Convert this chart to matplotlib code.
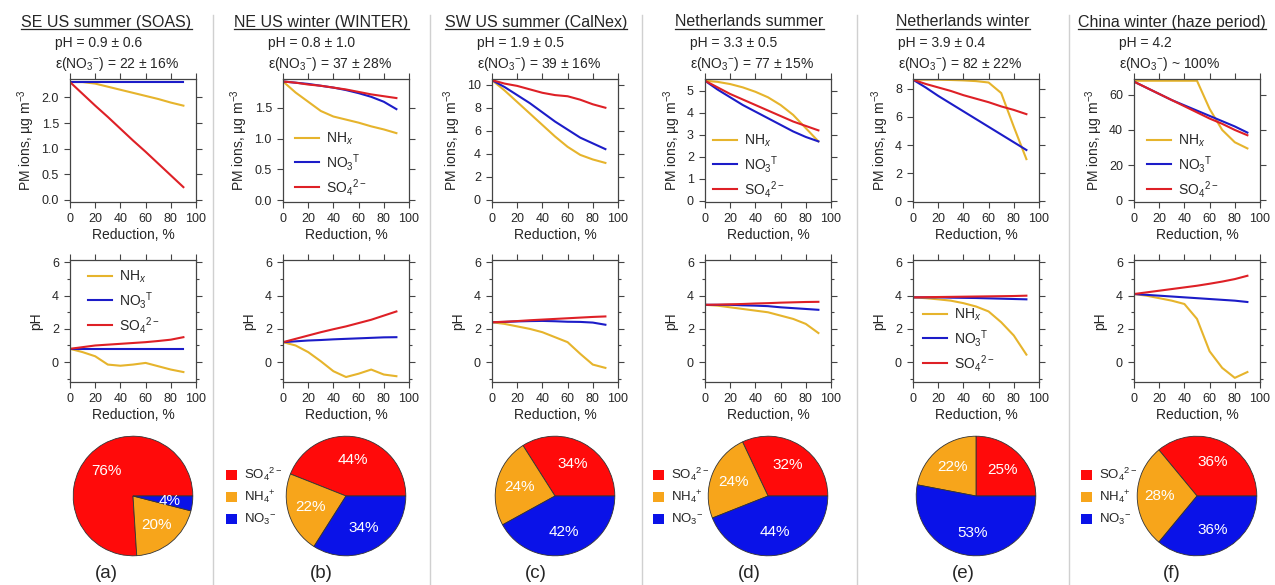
import matplotlib
matplotlib.use("Agg")
import matplotlib.pyplot as plt
from matplotlib.lines import Line2D
from matplotlib.patches import Patch
from matplotlib.ticker import MultipleLocator

plt.rcParams["font.family"] = ["Liberation Sans", "DejaVu Sans"]
plt.rcParams["mathtext.fontset"] = "custom"
plt.rcParams["mathtext.rm"] = "Liberation Sans"
plt.rcParams["mathtext.it"] = "Liberation Sans:italic"
plt.rcParams["mathtext.bf"] = "Liberation Sans:bold"
plt.rcParams["axes.unicode_minus"] = False

W, H = 1275, 585

# ---- data ----
reduction = [0, 10, 20, 30, 40, 50, 60, 70, 80, 90]

titles = ["SE US summer (SOAS)", "NE US winter (WINTER)", "SW US summer (CalNex)",
          "Netherlands summer", "Netherlands winter", "China winter (haze period)"]
ph_text = ["pH = 0.9 ± 0.6", "pH = 0.8 ± 1.0", "pH = 1.9 ± 0.5",
           "pH = 3.3 ± 0.5", "pH = 3.9 ± 0.4", "pH = 4.2"]
eps_text = ["= 22 ± 16%", "= 37 ± 28%", "= 39 ± 16%",
            "= 77 ± 15%", "= 82 ± 22%", "~ 100%"]
panel_tags = ["(a)", "(b)", "(c)", "(d)", "(e)", "(f)"]

# PM ions (ug m-3) vs reduction, one row per site
pm_nhx = [
    [2.30, 2.30, 2.27, 2.21, 2.15, 2.09, 2.03, 1.97, 1.90, 1.84],
    [1.93, 1.75, 1.60, 1.45, 1.36, 1.31, 1.26, 1.20, 1.15, 1.09],
    [10.4, 9.5, 8.5, 7.5, 6.5, 5.5, 4.6, 3.9, 3.5, 3.2],
    [5.45, 5.40, 5.30, 5.15, 4.95, 4.70, 4.35, 3.90, 3.30, 2.70],
    [8.65, 8.65, 8.65, 8.63, 8.60, 8.55, 8.45, 7.70, 5.30, 3.00],
    [68, 68, 68, 68, 68, 68, 52, 40, 33, 29.5],
]
pm_no3 = [
    [2.30, 2.30, 2.30, 2.30, 2.30, 2.30, 2.30, 2.30, 2.30, 2.30],
    [1.93, 1.91, 1.89, 1.86, 1.83, 1.79, 1.74, 1.68, 1.60, 1.48],
    [10.4, 9.8, 9.1, 8.4, 7.6, 6.8, 6.1, 5.4, 4.9, 4.4],
    [5.45, 5.05, 4.70, 4.35, 4.05, 3.75, 3.45, 3.15, 2.90, 2.70],
    [8.65, 8.10, 7.50, 6.95, 6.40, 5.85, 5.30, 4.75, 4.20, 3.65],
    [67.5, 64, 60.5, 57, 54, 51, 48, 45, 42, 38.5],
]
pm_so4 = [
    [2.30, 2.07, 1.84, 1.62, 1.39, 1.16, 0.94, 0.71, 0.48, 0.25],
    [1.93, 1.91, 1.88, 1.86, 1.83, 1.80, 1.76, 1.72, 1.69, 1.66],
    [10.4, 10.1, 9.9, 9.6, 9.3, 9.1, 9.0, 8.7, 8.3, 8.0],
    [5.45, 5.15, 4.85, 4.60, 4.35, 4.10, 3.85, 3.60, 3.40, 3.20],
    [8.65, 8.35, 8.10, 7.85, 7.55, 7.30, 7.05, 6.75, 6.50, 6.20],
    [67.5, 64, 60.5, 57, 53.5, 50, 46.5, 43.5, 40, 37],
]

# pH vs reduction
ph_nhx = [
    [0.80, 0.60, 0.35, -0.15, -0.22, -0.15, -0.05, -0.25, -0.45, -0.60],
    [1.20, 1.00, 0.60, 0.05, -0.55, -0.90, -0.70, -0.45, -0.75, -0.85],
    [2.40, 2.30, 2.15, 2.00, 1.80, 1.50, 1.20, 0.50, -0.15, -0.35],
    [3.45, 3.40, 3.30, 3.20, 3.10, 3.00, 2.80, 2.60, 2.30, 1.75],
    [3.90, 3.85, 3.78, 3.70, 3.55, 3.35, 3.05, 2.40, 1.60, 0.45],
    [4.10, 4.00, 3.85, 3.70, 3.50, 2.60, 0.65, -0.35, -0.95, -0.60],
]
ph_no3 = [
    [0.78, 0.78, 0.78, 0.78, 0.78, 0.78, 0.78, 0.78, 0.78, 0.78],
    [1.20, 1.25, 1.30, 1.33, 1.37, 1.40, 1.43, 1.46, 1.49, 1.50],
    [2.40, 2.42, 2.45, 2.47, 2.48, 2.46, 2.43, 2.42, 2.38, 2.25],
    [3.45, 3.45, 3.45, 3.42, 3.40, 3.37, 3.30, 3.25, 3.20, 3.15],
    [3.90, 3.90, 3.90, 3.88, 3.87, 3.86, 3.84, 3.82, 3.80, 3.78],
    [4.10, 4.05, 4.00, 3.95, 3.90, 3.85, 3.80, 3.75, 3.70, 3.62],
]
ph_so4 = [
    [0.80, 0.90, 1.00, 1.05, 1.10, 1.15, 1.20, 1.27, 1.35, 1.50],
    [1.20, 1.40, 1.60, 1.80, 1.98, 2.15, 2.35, 2.55, 2.80, 3.05],
    [2.40, 2.43, 2.47, 2.52, 2.56, 2.60, 2.64, 2.68, 2.72, 2.75],
    [3.45, 3.46, 3.48, 3.50, 3.53, 3.55, 3.58, 3.60, 3.62, 3.63],
    [3.90, 3.91, 3.92, 3.93, 3.94, 3.95, 3.96, 3.97, 3.98, 4.00],
    [4.10, 4.20, 4.30, 4.40, 4.50, 4.60, 4.72, 4.85, 5.00, 5.20],
]

# mass fractions for the pies (%)
pie_so4 = [76, 44, 34, 32, 25, 36]
pie_nh4 = [20, 22, 24, 24, 22, 28]
pie_no3 = [4, 34, 42, 44, 53, 36]

# ---- layout / style ----
C_NHX, C_NO3, C_SO4 = "#E6B42C", "#1C1CC8", "#DE2026"
P_SO4, P_NH4, P_NO3 = "#FF0A0A", "#F7A51B", "#0A12E8"
TXT = "#262626"
AX_LEFT = [70, 283, 492, 705, 913, 1134]
AX_W = 126
COL_EDGES = [0, 213, 430, 642, 857, 1069, 1275]
PM_YLIM = [(-0.04, 2.36), (-0.03, 1.97), (-0.2, 10.5), (-0.05, 5.53), (-0.05, 8.7), (-1, 69)]
PM_STEP = [0.5, 0.5, 2, 1, 2, 20]
LINE_LEG = {0: ("ph", 88, 269), 1: ("pm", 295, 131), 3: ("pm", 713, 133),
            4: ("ph", 923, 307), 5: ("pm", 1147, 133)}
PIE_LEG = {1: 226, 3: 653, 5: 1081}

LAB_NHX = "NH$_x$"
LAB_NO3 = "NO$_3$$^{\\mathrm{T}}$"
LAB_SO4 = "SO$_4$$^{2-}$"


def rect(x, y, w, h):
    return [x / W, 1 - (y + h) / H, w / W, h / H]


def style_axes(ax):
    for s in ax.spines.values():
        s.set_color("#444444")
        s.set_linewidth(0.9)
    ax.tick_params(which="both", direction="out", top=True, right=True,
                   labelsize=9, colors="#444444", labelcolor=TXT, width=0.8)
    ax.tick_params(which="major", length=4.5)
    ax.tick_params(which="minor", length=2.5)
    ax.set_xlim(0, 100)
    ax.xaxis.set_major_locator(MultipleLocator(20))
    ax.set_xlabel("Reduction, %", fontsize=10, color=TXT, labelpad=2)


fig = plt.figure(figsize=(W / 100, H / 100), dpi=100)

title_texts = []
for i in range(6):
    x0 = AX_LEFT[i]
    cx = (COL_EDGES[i] + COL_EDGES[i + 1]) / 2

    # PM ions panel
    ax = fig.add_axes(rect(x0, 79, AX_W, 123))
    ax.plot(reduction, pm_nhx[i], color=C_NHX, lw=1.5, label=LAB_NHX)
    ax.plot(reduction, pm_no3[i], color=C_NO3, lw=1.5, label=LAB_NO3)
    ax.plot(reduction, pm_so4[i], color=C_SO4, lw=1.5, label=LAB_SO4)
    style_axes(ax)
    ax.set_ylim(*PM_YLIM[i])
    ax.yaxis.set_major_locator(MultipleLocator(PM_STEP[i]))
    ax.set_ylabel("PM ions, µg m$^{-3}$", fontsize=10, color=TXT, labelpad=3)
    ax_pm = ax

    # pH panel
    ax = fig.add_axes(rect(x0, 260, AX_W, 122))
    ax.plot(reduction, ph_nhx[i], color=C_NHX, lw=1.5, label=LAB_NHX)
    ax.plot(reduction, ph_no3[i], color=C_NO3, lw=1.5, label=LAB_NO3)
    ax.plot(reduction, ph_so4[i], color=C_SO4, lw=1.5, label=LAB_SO4)
    style_axes(ax)
    ax.set_ylim(-1.2, 6.15)
    ax.yaxis.set_major_locator(MultipleLocator(2))
    ax.yaxis.set_minor_locator(MultipleLocator(1))
    ax.set_ylabel("pH", fontsize=10, color=TXT, labelpad=6)
    ax_ph = ax

    if i in LINE_LEG:
        which, lx, ly = LINE_LEG[i]
        src = ax_pm if which == "pm" else ax_ph
        src.legend(loc="upper left", bbox_to_anchor=(lx / W, 1 - ly / H),
                   bbox_transform=fig.transFigure, frameon=False, fontsize=10,
                   borderpad=0, borderaxespad=0, handlelength=1.7,
                   handletextpad=0.5, labelspacing=0.3, labelcolor=TXT)

    # pie of composition
    pcx = x0 + AX_W / 2
    pax = fig.add_axes(rect(pcx - 61, 435, 122, 122))
    pax.pie([pie_so4[i], pie_nh4[i], pie_no3[i]], colors=[P_SO4, P_NH4, P_NO3],
            startangle=0, counterclock=True, radius=1.0,
            autopct=lambda p: f"{p:.0f}%", pctdistance=0.62,
            wedgeprops=dict(edgecolor="#333333", linewidth=0.6),
            textprops=dict(color="white", fontsize=11))
    pax.set_xlim(-1.02, 1.02)
    pax.set_ylim(-1.02, 1.02)

    if i in PIE_LEG:
        handles = [Patch(facecolor=P_SO4, label="SO$_4$$^{2-}$"),
                   Patch(facecolor=P_NH4, label="NH$_4$$^{+}$"),
                   Patch(facecolor=P_NO3, label="NO$_3$$^{-}$")]
        fig.legend(handles=handles, loc="upper left",
                   bbox_to_anchor=(PIE_LEG[i] / W, 1 - 466 / H),
                   frameon=False, fontsize=9.5, borderpad=0, borderaxespad=0,
                   handlelength=0.8, handleheight=0.8, handletextpad=0.6,
                   labelspacing=0.45, labelcolor=TXT)

    # header text
    t = fig.text(cx / W, 1 - 22 / H, titles[i], ha="center", va="center",
                 fontsize=11.5, color=TXT)
    title_texts.append(t)
    fig.text((x0 - 15) / W, 1 - 43 / H, ph_text[i], ha="left", va="center",
             fontsize=10, color=TXT)
    fig.text((x0 - 15) / W, 1 - 64 / H, "ε(NO$_3$$^{-}$) " + eps_text[i],
             ha="left", va="center", fontsize=10, color=TXT)
    fig.text(cx / W, 1 - 574 / H, panel_tags[i], ha="center", va="center",
             fontsize=13.5, color=TXT)

# column separators
for xe in COL_EDGES[1:-1]:
    fig.add_artist(Line2D([xe / W, xe / W], [0, 1 - 15 / H], color="#d0d0d0",
                          lw=1.0, transform=fig.transFigure))

# underline the titles
fig.canvas.draw()
r = fig.canvas.get_renderer()
inv = fig.transFigure.inverted()
for t in title_texts:
    bb = t.get_window_extent(r)
    (ux0, uy), (ux1, _) = inv.transform([(bb.x0, bb.y0 + 1), (bb.x1, bb.y0 + 1)])
    fig.add_artist(Line2D([ux0, ux1], [uy, uy], color=TXT, lw=0.9,
                          transform=fig.transFigure))

fig.savefig("out.png", dpi=100)
